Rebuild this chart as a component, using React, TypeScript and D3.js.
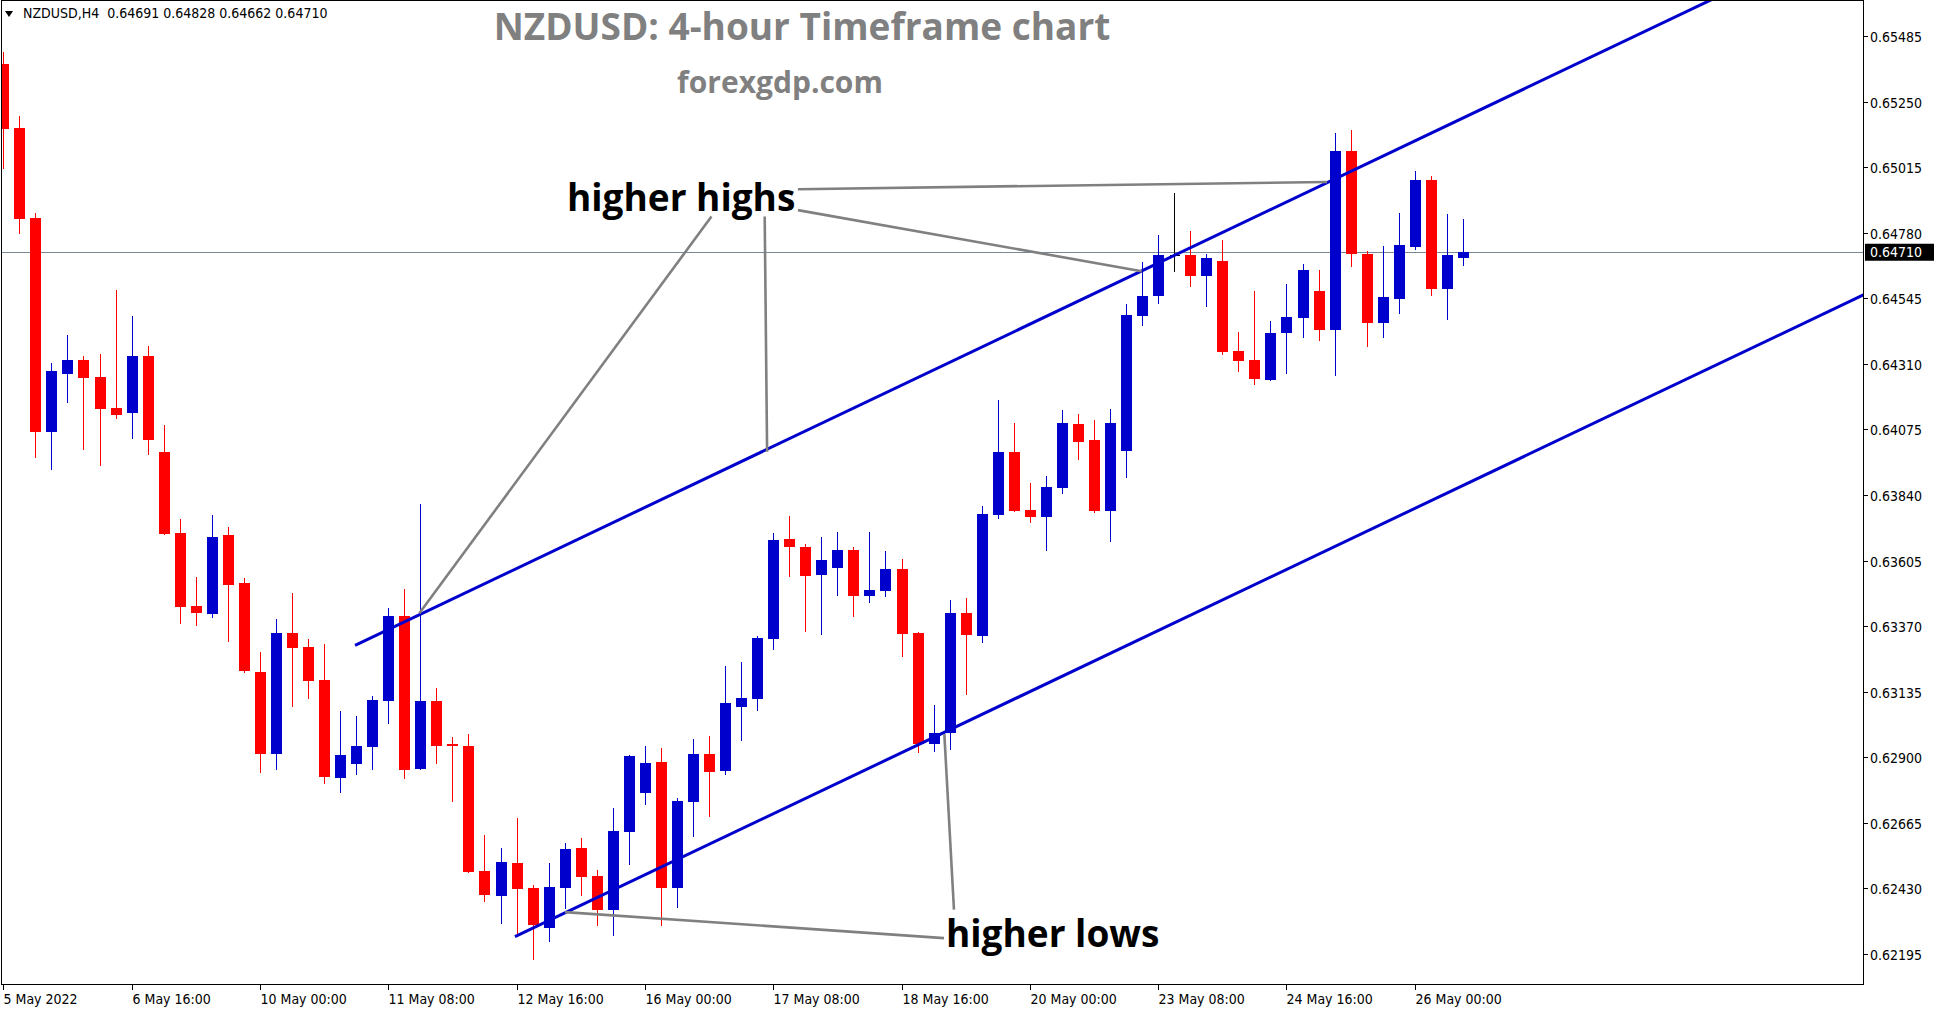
import { scaleLinear, line } from "d3";

// NZDUSD H4 candles, 5 May 2022 08:00 .. 26 May 2022 12:00
const opens = [
  0.65384, 0.65157, 0.64832, 0.64066, 0.64274, 0.64324, 0.64263, 0.64152, 0.64134, 0.64338,
  0.63993, 0.63704, 0.63442, 0.63414, 0.63696, 0.63524, 0.63205, 0.62911, 0.63345, 0.63295,
  0.63176, 0.62825, 0.62876, 0.62936, 0.63101, 0.63406, 0.62858, 0.63101, 0.62947, 0.6294,
  0.62492, 0.62404, 0.62521, 0.62431, 0.62289, 0.62432, 0.62574, 0.62474, 0.62353, 0.62633,
  0.62773, 0.62883, 0.62433, 0.6274, 0.62912, 0.62851, 0.6308, 0.63109, 0.63324, 0.63682,
  0.63654, 0.63553, 0.63578, 0.63643, 0.63478, 0.63496, 0.63575, 0.63345, 0.62947, 0.62987,
  0.63417, 0.63334, 0.63768, 0.63994, 0.63786, 0.63761, 0.63866, 0.64094, 0.64036, 0.63783,
  0.63998, 0.64482, 0.64552, 0.64698, 0.64699, 0.64624, 0.64678, 0.64355, 0.64323, 0.64253,
  0.64421, 0.64475, 0.6457, 0.64432, 0.65072, 0.64703, 0.64457, 0.64543, 0.64729, 0.64968,
  0.64579, 0.64691,
];
const highs = [
  0.65429, 0.652, 0.64851, 0.64314, 0.64414, 0.64338, 0.64346, 0.64576, 0.64483, 0.64375,
  0.6409, 0.63755, 0.63545, 0.6377, 0.63725, 0.63543, 0.63277, 0.63395, 0.63488, 0.63323,
  0.63306, 0.63065, 0.63047, 0.63119, 0.63435, 0.63503, 0.63807, 0.63148, 0.62972, 0.62983,
  0.62621, 0.62575, 0.62682, 0.62442, 0.62521, 0.62592, 0.6261, 0.62496, 0.62718, 0.62908,
  0.62941, 0.62933, 0.62754, 0.62966, 0.62976, 0.63227, 0.63241, 0.63335, 0.63704, 0.63765,
  0.63664, 0.6369, 0.63707, 0.63653, 0.63707, 0.63639, 0.6361, 0.63349, 0.63087, 0.63463,
  0.63471, 0.638, 0.6418, 0.64098, 0.63883, 0.63908, 0.64144, 0.64129, 0.64108, 0.64147,
  0.64524, 0.64674, 0.64771, 0.64922, 0.64785, 0.64703, 0.64753, 0.64423, 0.64572, 0.64463,
  0.64595, 0.64667, 0.64646, 0.65137, 0.65147, 0.64714, 0.64732, 0.6485, 0.65, 0.64982,
  0.64846, 0.64828,
];
const lows = [
  0.65008, 0.64776, 0.63974, 0.63928, 0.64171, 0.64001, 0.63943, 0.64112, 0.6404, 0.63983,
  0.63695, 0.63378, 0.6337, 0.634, 0.63313, 0.63202, 0.62843, 0.62854, 0.6308, 0.63108,
  0.62804, 0.62771, 0.62836, 0.62854, 0.63019, 0.62822, 0.62854, 0.62877, 0.62741, 0.62486,
  0.62382, 0.62303, 0.62257, 0.62174, 0.62239, 0.62357, 0.62404, 0.62296, 0.6226, 0.62514,
  0.6273, 0.62297, 0.62361, 0.62614, 0.62686, 0.62837, 0.62958, 0.63066, 0.63285, 0.63546,
  0.63349, 0.63338, 0.63478, 0.63403, 0.63453, 0.63474, 0.63259, 0.62915, 0.62919, 0.62926,
  0.63123, 0.63309, 0.63754, 0.63779, 0.63739, 0.63639, 0.63844, 0.63966, 0.63776, 0.63672,
  0.63901, 0.64446, 0.64525, 0.6464, 0.64585, 0.64513, 0.64341, 0.6428, 0.64235, 0.64249,
  0.64274, 0.64403, 0.64392, 0.64267, 0.64658, 0.64371, 0.64403, 0.64489, 0.64718, 0.64554,
  0.64468, 0.64662,
];
const closes = [
  0.65153, 0.64829, 0.64066, 0.64284, 0.64324, 0.64261, 0.64149, 0.64127, 0.64338, 0.64037,
  0.63702, 0.63439, 0.63417, 0.63688, 0.63517, 0.63209, 0.62911, 0.63345, 0.63291, 0.63173,
  0.62829, 0.62908, 0.6294, 0.63105, 0.63406, 0.62854, 0.63101, 0.62941, 0.62939, 0.6249,
  0.62407, 0.62524, 0.62429, 0.623, 0.62435, 0.62571, 0.62472, 0.62353, 0.62635, 0.62905,
  0.6288, 0.62433, 0.62743, 0.62912, 0.62847, 0.63095, 0.63112, 0.63328, 0.63679, 0.63654,
  0.6355, 0.63607, 0.63643, 0.63478, 0.63499, 0.63575, 0.63342, 0.62947, 0.62987, 0.63417,
  0.63338, 0.63772, 0.63994, 0.63782, 0.63761, 0.63869, 0.64097, 0.6403, 0.63783, 0.64097,
  0.64484, 0.64552, 0.64699, 0.64698, 0.64624, 0.64689, 0.64352, 0.6432, 0.64256, 0.6442,
  0.64477, 0.64646, 0.64432, 0.65072, 0.64704, 0.64457, 0.64549, 0.64735, 0.64968, 0.64579,
  0.64699, 0.6471,
];

const timeLabels = [
  "5 May 2022", "6 May 16:00", "10 May 00:00", "11 May 08:00", "12 May 16:00", "16 May 00:00",
  "17 May 08:00", "18 May 16:00", "20 May 00:00", "23 May 08:00", "24 May 16:00", "26 May 00:00",
];
const timeLabelBars = [0, 8, 16, 24, 32, 40, 48, 56, 64, 72, 80, 88];

const priceTicks = [
  0.62195, 0.6243, 0.62665, 0.629, 0.63135, 0.6337, 0.63605, 0.6384, 0.64075, 0.6431, 0.64545,
  0.6478, 0.65015, 0.6525, 0.65485,
];
const lastPrice = 0.6471;
const header = "NZDUSD,H4  0.64691 0.64828 0.64662 0.64710";

// trend lines as [bar, price] points
const upperChannel: [number, number][] = [[21.93, 0.63301], [110, 0.65711]];
const lowerChannel: [number, number][] = [[31.9, 0.62257], [116, 0.64558]];

const highLinks: [number, number][][] = [
  [[44.15, 0.64838], [25.94, 0.63416]],
  [[47.47, 0.64838], [47.62, 0.63995]],
  [[49.54, 0.64936], [82.53, 0.64962]],
  [[49.54, 0.64861], [70.97, 0.64642]],
];
const lowLinks: [number, number][][] = [
  [[58.67, 0.62983], [59.27, 0.62354]],
  [[35.02, 0.62345], [58.65, 0.62252]],
];

const BULL = "#0000cd";
const BEAR = "#ff0000";
const axisFont = "'DejaVu Sans Condensed', 'DejaVu Sans', sans-serif";
const labelFont = "'Open Sans', 'Liberation Sans', sans-serif";

export default function App() {
  const width = 1934;
  const height = 1011;
  const plot = { left: 2, top: 1, right: 1864, bottom: 985 };

  const x = scaleLinear().domain([0, 91]).range([3.3, 1462.9]);
  const y = scaleLinear().domain([0.62195, 0.65485]).range([954, 36]);
  const path = line<[number, number]>()
    .x((d) => x(d[0]))
    .y((d) => y(d[1]));

  const bodyW = 11;

  return (
    <svg
      width={width}
      height={height}
      style={{ position: "absolute", left: 0, top: 0, background: "#fff" }}
    >
      <defs>
        <clipPath id="plot">
          <rect
            x={plot.left}
            y={plot.top}
            width={plot.right - plot.left}
            height={plot.bottom - plot.top}
          />
        </clipPath>
      </defs>

      <g clipPath="url(#plot)">
        <line
          x1={plot.left}
          x2={plot.right}
          y1={Math.round(y(lastPrice)) + 0.5}
          y2={Math.round(y(lastPrice)) + 0.5}
          stroke="#778899"
          strokeWidth={1}
        />

        {opens.map((o, i) => {
          const c = closes[i];
          const cx = Math.round(x(i)) + 0.5;
          const color = c > o ? BULL : c < o ? BEAR : "#000";
          const top = y(Math.max(o, c));
          const bot = y(Math.min(o, c));
          return (
            <g key={i} shapeRendering="crispEdges">
              <line x1={cx} x2={cx} y1={y(highs[i])} y2={y(lows[i])} stroke={color} strokeWidth={1} />
              {c === o ? (
                <line x1={cx - 5} x2={cx + 5} y1={top} y2={top} stroke={color} strokeWidth={1} />
              ) : (
                <rect
                  x={cx - 0.5 - (bodyW - 1) / 2}
                  y={top}
                  width={bodyW}
                  height={Math.max(1.5, bot - top)}
                  fill={color}
                />
              )}
            </g>
          );
        })}

        <path d={path(upperChannel) ?? ""} stroke={BULL} strokeWidth={3} fill="none" />
        <path d={path(lowerChannel) ?? ""} stroke={BULL} strokeWidth={3} fill="none" />

        {[...highLinks, ...lowLinks].map((l, i) => (
          <path key={i} d={path(l) ?? ""} stroke="#808080" strokeWidth={2.6} fill="none" />
        ))}
      </g>

      {/* frame */}
      <rect
        x={plot.left - 0.5}
        y={plot.top - 0.5}
        width={plot.right - plot.left}
        height={plot.bottom - plot.top}
        fill="none"
        stroke="#000"
        strokeWidth={1}
      />

      {/* header */}
      <polygon points="5,11 13,11 9,17" fill="#000" />
      <text
        x={23}
        y={18}
        fontFamily={axisFont}
        fontSize={14}
        fill="#000"
        style={{ whiteSpace: "pre" }}
      >
        {header}
      </text>

      {/* titles */}
      <text
        x={802}
        y={40}
        textAnchor="middle"
        fontFamily={labelFont}
        fontWeight={700}
        fontSize={37}
        fill="#808080"
      >
        NZDUSD: 4-hour Timeframe chart
      </text>
      <text
        x={780}
        y={93}
        textAnchor="middle"
        fontFamily={labelFont}
        fontWeight={700}
        fontSize={30}
        fill="#808080"
      >
        forexgdp.com
      </text>

      <text x={567} y={211} fontFamily={labelFont} fontWeight={700} fontSize={37} fill="#000">
        higher highs
      </text>
      <text x={946} y={947} fontFamily={labelFont} fontWeight={700} fontSize={37} fill="#000">
        higher lows
      </text>

      {/* price axis */}
      <g fontFamily={axisFont} fontSize={14} fill="#000">
        {priceTicks.map((p) => {
          const py = Math.round(y(p)) + 0.5;
          return (
            <g key={p}>
              <line x1={plot.right} x2={plot.right + 4} y1={py} y2={py} stroke="#000" />
              <text x={plot.right + 6} y={py + 5}>
                {p.toFixed(5)}
              </text>
            </g>
          );
        })}
        <rect x={plot.right + 1} y={y(lastPrice) - 8.5} width={70} height={17} fill="#000" />
        <text x={plot.right + 6} y={y(lastPrice) + 5} fill="#fff">
          {lastPrice.toFixed(5)}
        </text>
      </g>

      {/* time axis */}
      <g fontFamily={axisFont} fontSize={14} fill="#000">
        {timeLabelBars.map((b, i) => {
          const tx = Math.round(x(b)) + 0.5;
          return (
            <g key={b}>
              <line x1={tx} x2={tx} y1={plot.bottom} y2={plot.bottom + 5} stroke="#000" />
              <text x={tx} y={plot.bottom + 19}>
                {timeLabels[i]}
              </text>
            </g>
          );
        })}
      </g>
    </svg>
  );
}
